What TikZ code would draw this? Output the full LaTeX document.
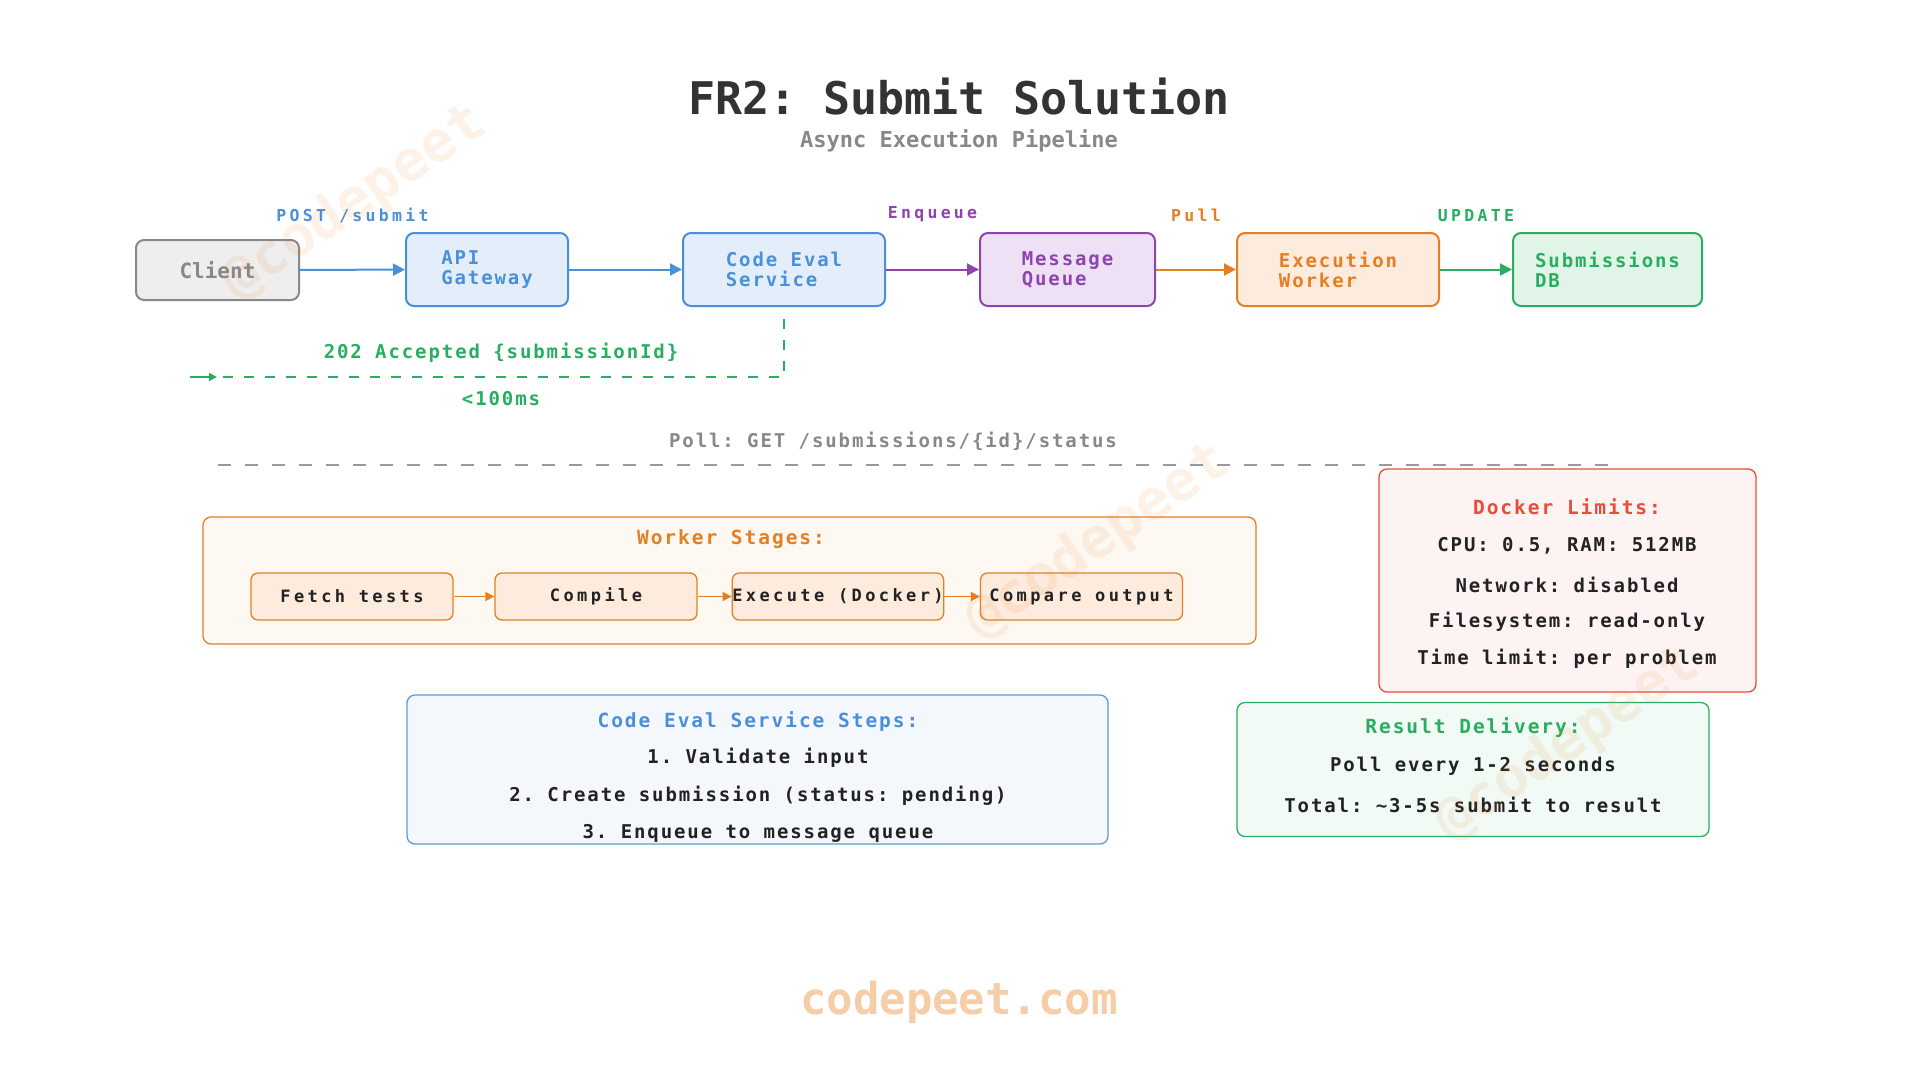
\documentclass[tikz,border=0pt]{standalone}
\usepackage{fontspec}
\usetikzlibrary{arrows.meta}
\newfontfamily\plainmono{DejaVu Sans Mono}
\newfontfamily\trackmono[LetterSpace=10]{DejaVu Sans Mono}
\newfontfamily\widemono[LetterSpace=20]{DejaVu Sans Mono}
\definecolor{apiblue}{HTML}{4A90D9}
\definecolor{apifill}{HTML}{E3EEFA}
\definecolor{qpurple}{HTML}{8E44AD}
\definecolor{qfill}{HTML}{EFE1F5}
\definecolor{wkorange}{HTML}{E67E22}
\definecolor{wkfill}{HTML}{FDEBDD}
\definecolor{wkpale}{HTML}{FEF8F2}
\definecolor{dbgreen}{HTML}{27AE60}
\definecolor{dbfill}{HTML}{E1F4E8}
\definecolor{dbpale}{HTML}{F1FAF4}
\definecolor{lmred}{HTML}{E74C3C}
\definecolor{lmpale}{HTML}{FDF3F3}
\definecolor{stpblue}{HTML}{5B9BD5}
\definecolor{stppale}{HTML}{F4F8FC}
\definecolor{clgray}{HTML}{888888}
\definecolor{clfill}{HTML}{EEEEEE}
\definecolor{inkdark}{HTML}{333333}
\definecolor{inkbody}{HTML}{222222}
\definecolor{inkmute}{HTML}{888888}
\definecolor{brandtan}{HTML}{F5CDA7}
\frenchspacing

\begin{document}
\begin{tikzpicture}[x=1pt,y=-1pt,
  svc/.style={draw, line width=2pt, rounded corners=8pt, align=left, inner sep=0pt,
    minimum height=73pt, font=\trackmono\bfseries\fontsize{19}{20}\selectfont},
  flow/.style={line width=2pt, -{Triangle[length=12pt,width=12pt]}},
  lbl/.style={inner sep=0pt, font=\widemono\bfseries\fontsize{16.5}{18}\selectfont},
  panel/.style={draw, line width=1.3pt, rounded corners=8pt, inner sep=0pt},
  head/.style={inner sep=0pt, font=\trackmono\bfseries\fontsize{19.5}{22}\selectfont},
  body/.style={inner sep=0pt, text=inkbody, font=\trackmono\bfseries\fontsize{19}{22}\selectfont},
  note/.style={inner sep=0pt, font=\trackmono\bfseries\fontsize{19}{20}\selectfont},
  stagebox/.style={draw=wkorange, fill=wkfill, line width=1.3pt, rounded corners=7pt,
    minimum width=202pt, minimum height=47pt, inner sep=0pt, text=inkbody,
    font=\widemono\bfseries\fontsize{17}{20}\selectfont},
  stagearr/.style={wkorange, line width=1.5pt, -{Triangle[length=9pt,width=9pt]}},
  wmark/.style={text=wkorange, text opacity=0.1, rotate=34, inner sep=0pt,
    font=\plainmono\bfseries\fontsize{56}{60}\selectfont}]

\path (0,0) rectangle (1920,1080);

\node[inner sep=0pt, text=inkdark, font=\plainmono\bfseries\fontsize{45}{50}\selectfont] (title) at (959,97) {FR2: Submit Solution};
\node[inner sep=0pt, text=inkmute, font=\plainmono\bfseries\fontsize{22}{24}\selectfont] (subtitle) at (959,141) {Async Execution Pipeline};

\node[svc, draw=clgray, fill=clfill, text=clgray, minimum width=163pt, minimum height=60pt,
  font=\plainmono\bfseries\fontsize{21}{24}\selectfont] (client) at (217.5,270) {Client};
\node[svc, draw=apiblue, fill=apifill, text=apiblue, minimum width=162pt] (gateway) at (487,269.5) {API\\Gateway};
\node[svc, draw=apiblue, fill=apifill, text=apiblue, minimum width=202pt] (evalsvc) at (784,269.5) {Code Eval\\Service};
\node[svc, draw=qpurple, fill=qfill, text=qpurple, minimum width=175pt] (queue) at (1067.5,269.5) {Message\\Queue};
\node[svc, draw=wkorange, fill=wkfill, text=wkorange, minimum width=202pt] (worker) at (1338,269.5) {Execution\\Worker};
\node[svc, draw=dbgreen, fill=dbfill, text=dbgreen, minimum width=189pt] (subdb) at (1607.5,269.5) {Submissions\\DB};

\draw[flow, apiblue] (client) -- node[lbl, text=apiblue, yshift=54pt] {POST /submit} (gateway);
\draw[flow, apiblue] (gateway) -- (evalsvc);
\draw[flow, qpurple] (evalsvc) -- node[lbl, text=qpurple, yshift=55pt] {Enqueue} (queue);
\draw[flow, wkorange] (queue) -- node[lbl, text=wkorange, yshift=54pt] {Pull} (worker);
\draw[flow, dbgreen] (worker) -- node[lbl, text=dbgreen, yshift=54pt] {UPDATE} (subdb);

\coordinate (ackend) at (190,377);
\coordinate (acktip) at (217,377);
\draw[dbgreen, line width=1.5pt, dash pattern=on 10pt off 11pt] ([yshift=-12pt]evalsvc.south) |- (acktip);
\draw[dbgreen, line width=1.5pt, -{Triangle[length=8pt,width=8pt]}] (ackend) -- (acktip);
\node[note, text=dbgreen] (acklbl) at (501,353) {202 Accepted \{submissionId\}};
\node[note, text=dbgreen] (latency) at (501,399) {<100ms};

\node[note, text=inkmute] (polllbl) at (893,441) {Poll: GET /submissions/\{id\}/status};
\coordinate (pollL) at (218,465);
\coordinate (pollR) at (1608,465);
\draw[inkmute!85, line width=1.5pt, dash pattern=on 13pt off 14pt] (pollL) -- (pollR);

\node[panel, draw=wkorange, fill=wkpale, minimum width=1053pt, minimum height=127pt] (stages) at (729.5,580.5) {};
\node[head, text=wkorange] (stageshead) at (731,539) {Worker Stages:};
\node[stagebox] (fetch) at (352,596.5) {Fetch tests};
\node[stagebox] (compile) at (596,596.5) {Compile};
\node[stagebox] (execute) at (838,596.5) {Execute (Docker)};
\node[stagebox] (compare) at (1081.5,596.5) {Compare output};
\draw[stagearr] (fetch) -- (compile);
\draw[stagearr] (compile) -- (execute);
\draw[stagearr] (execute) -- (compare);

\node[panel, draw=lmred, fill=lmpale, minimum width=377pt, minimum height=223pt] (limits) at (1567.5,580.5) {};
\node[head, text=lmred] (limitshead) at (1567,507) {Docker Limits:};
\node[body] (lim1) at (1567,546) {CPU: 0.5, RAM: 512MB};
\node[body] (lim2) at (1567,585) {Network: disabled};
\node[body] (lim3) at (1567,622) {Filesystem: read-only};
\node[body] (lim4) at (1567,659) {Time limit: per problem};

\node[panel, draw=stpblue, fill=stppale, minimum width=701pt, minimum height=149pt] (steps) at (757.5,769.5) {};
\node[head, text=apiblue] (stepshead) at (758,722) {Code Eval Service Steps:};
\node[body] (step1) at (758,758) {1. Validate input};
\node[body] (step2) at (758,796) {2. Create submission (status: pending)};
\node[body] (step3) at (758,833) {3. Enqueue to message queue};

\node[panel, draw=dbgreen, fill=dbpale, minimum width=472pt, minimum height=134pt] (delivery) at (1473,769.5) {};
\node[head, text=dbgreen] (deliveryhead) at (1473,728) {Result Delivery:};
\node[body] (dlv1) at (1473,766) {Poll every 1-2 seconds};
\node[body] (dlv2) at (1473,805) {Total: \textasciitilde3-5s submit to result};

\node[inner sep=0pt, text=brandtan, font=\plainmono\bfseries\fontsize{44}{48}\selectfont] (brand) at (959,1002) {codepeet.com};

\node[wmark] (wm1) at (355,203) {@codepeet};
\node[wmark] (wm2) at (1098,542) {@codepeet};
\node[wmark] (wm3) at (1568,744) {@codepeet};
\end{tikzpicture}
\end{document}
